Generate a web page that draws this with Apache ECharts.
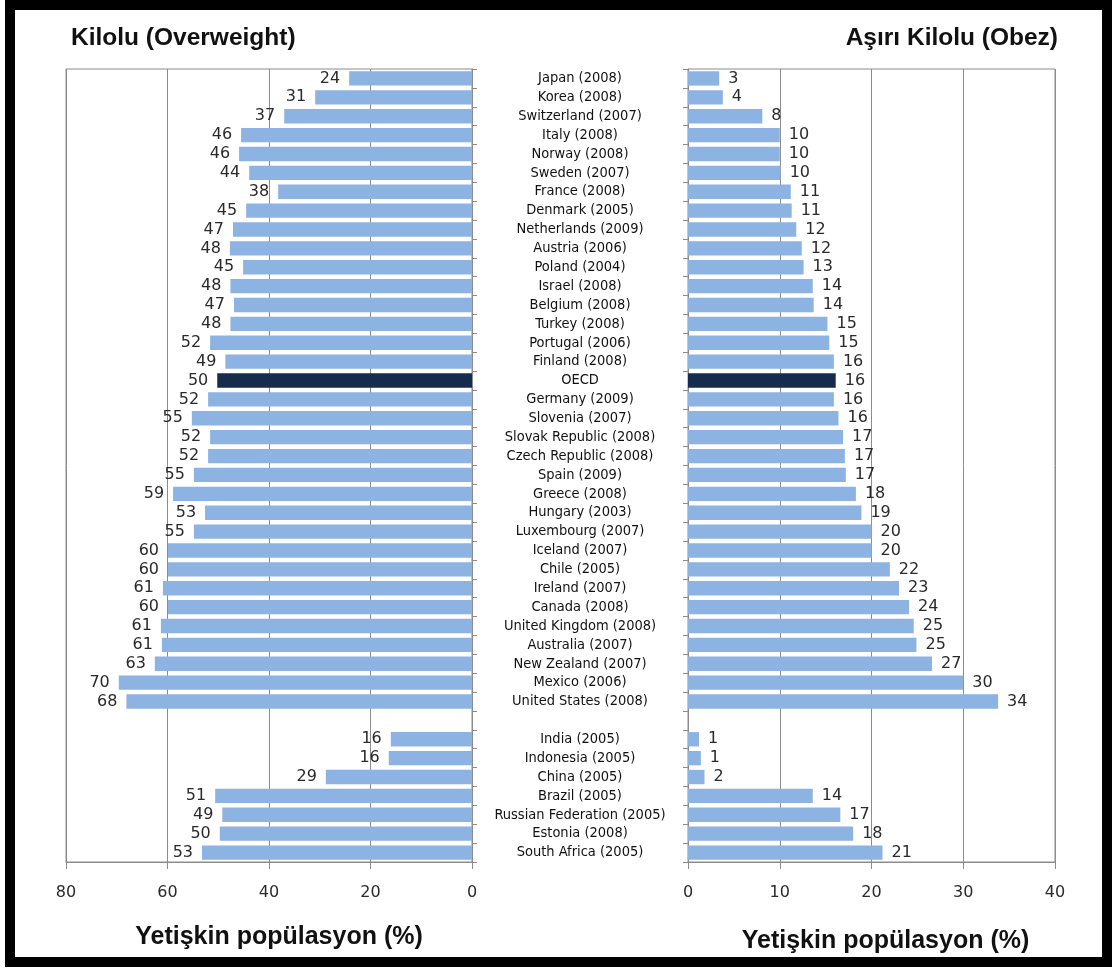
<!DOCTYPE html>
<html>
<head>
<meta charset="utf-8">
<script src="https://cdn.jsdelivr.net/npm/echarts@6/dist/echarts.min.js"></script>
<style>
  html, body { margin: 0; padding: 0; background: #fff; }
  #main { width: 1112px; height: 968px; }
</style>
</head>
<body>
<div id="main"></div>
<script>
// categories, top to bottom ('' is the empty gap row)
var countries = [
  "Japan (2008)", "Korea (2008)", "Switzerland (2007)", "Italy (2008)", "Norway (2008)",
  "Sweden (2007)", "France (2008)", "Denmark (2005)", "Netherlands (2009)", "Austria (2006)",
  "Poland (2004)", "Israel (2008)", "Belgium (2008)", "Turkey (2008)", "Portugal (2006)",
  "Finland (2008)", "OECD", "Germany (2009)", "Slovenia (2007)", "Slovak Republic (2008)",
  "Czech Republic (2008)", "Spain (2009)", "Greece (2008)", "Hungary (2003)", "Luxembourg (2007)",
  "Iceland (2007)", "Chile (2005)", "Ireland (2007)", "Canada (2008)", "United Kingdom (2008)",
  "Australia (2007)", "New Zealand (2007)", "Mexico (2006)", "United States (2008)", "",
  "India (2005)", "Indonesia (2005)", "China (2005)", "Brazil (2005)", "Russian Federation (2005)",
  "Estonia (2008)", "South Africa (2005)"
];

// Kilolu (Overweight), % of adults
var overweight = [
  24.2, 30.9, 37.0, 45.5, 45.9, 43.9, 38.2, 44.5, 47.1, 47.7,
  45.1, 47.6, 46.9, 47.6, 51.6, 48.6, 50.2, 52.0, 55.2, 51.6,
  52.0, 54.8, 58.9, 52.6, 54.8, 59.9, 59.9, 60.9, 59.9, 61.3,
  61.1, 62.5, 69.6, 68.1, null,
  16.0, 16.4, 28.8, 50.6, 49.2, 49.7, 53.2
];

// Aşırı Kilolu (Obez), % of adults
var obese = [
  3.4, 3.8, 8.1, 10.0, 10.0, 10.1, 11.2, 11.3, 11.8, 12.4,
  12.6, 13.6, 13.7, 15.2, 15.4, 15.9, 16.1, 15.9, 16.4, 16.9,
  17.1, 17.2, 18.3, 18.9, 20.0, 20.0, 22.0, 23.0, 24.1, 24.6,
  24.9, 26.6, 30.0, 33.8, null,
  1.2, 1.4, 1.8, 13.6, 16.6, 18.0, 21.2
];

var leftTicks = [0, 20, 40, 60, 80];
var rightTicks = [0, 10, 20, 30, 40];

var lightBlue = "#8db3e2";
var darkBlue = "#172c4c";
var gridGray = "#8c8c8c";

function barData(values) {
  return values.map(function (v, i) {
    if (v == null) return "-";
    if (countries[i] === "OECD") {
      return { value: v, itemStyle: { color: darkBlue } };
    }
    return v;
  });
}

var labelStyle = {
  show: true,
  fontFamily: "DejaVu Sans",
  fontSize: 16,
  color: "#2a2a2a",
  distance: 9,
  formatter: function (p) { return Math.round(p.value); }
};

var tickLabel = { fontFamily: "DejaVu Sans", fontSize: 16, color: "#2a2a2a", margin: 23 };
var axisName = { fontFamily: "Liberation Sans", fontWeight: "bold", fontSize: 25, color: "#111" };
var titleStyle = { fontFamily: "Liberation Sans", fontWeight: "bold", fontSize: 24.5, color: "#111" };

var chart = echarts.init(document.getElementById("main"));
chart.setOption({
  animation: false,
  backgroundColor: "#fff",
  title: [
    { text: "Kilolu (Overweight)", left: 66, top: 21, textStyle: titleStyle },
    { text: "Aşırı Kilolu (Obez)", right: 49, top: 21, textStyle: titleStyle }
  ],
  graphic: [
    { type: "rect", shape: { x: 10, y: 5, width: 1097, height: 957 },
      style: { fill: "none", stroke: "#000", lineWidth: 10 }, z: 100 }
  ],
  grid: [
    { left: 66, right: 640, top: 69, bottom: 106, show: true, borderColor: gridGray, borderWidth: 1 },
    { left: 688, right: 57, top: 69, bottom: 106, show: true, borderColor: gridGray, borderWidth: 1 }
  ],
  xAxis: [
    {
      gridIndex: 0, type: "value", inverse: true, min: leftTicks[0], max: leftTicks[leftTicks.length - 1],
      interval: leftTicks[1] - leftTicks[0],
      axisLine: { show: true, lineStyle: { color: gridGray } },
      axisTick: { show: true, length: 7, lineStyle: { color: gridGray } },
      axisLabel: tickLabel,
      splitLine: { show: true, lineStyle: { color: gridGray } },
      name: "Yetişkin popülasyon (%)", nameLocation: "middle", nameGap: 63,
      nameTextStyle: Object.assign({ padding: [0, 0, 0, 20] }, axisName)
    },
    {
      gridIndex: 1, type: "value", min: rightTicks[0], max: rightTicks[rightTicks.length - 1],
      interval: rightTicks[1] - rightTicks[0],
      axisLine: { show: true, lineStyle: { color: gridGray } },
      axisTick: { show: true, length: 7, lineStyle: { color: gridGray } },
      axisLabel: tickLabel,
      splitLine: { show: true, lineStyle: { color: gridGray } },
      name: "Yetişkin popülasyon (%)", nameLocation: "middle", nameGap: 67,
      nameTextStyle: Object.assign({ padding: [0, 0, 0, 28] }, axisName)
    }
  ],
  yAxis: [
    {
      gridIndex: 0, type: "category", data: countries, inverse: true, position: "right",
      axisLine: { show: true, lineStyle: { color: gridGray } },
      axisTick: { show: true, length: 5, interval: 0, lineStyle: { color: gridGray } },
      axisLabel: { show: false }
    },
    {
      gridIndex: 1, type: "category", data: countries, inverse: true, position: "left",
      axisLine: { show: true, lineStyle: { color: gridGray } },
      axisTick: { show: true, length: 5, interval: 0, lineStyle: { color: gridGray } },
      axisLabel: {
        interval: 0, align: "center", margin: 108,
        fontFamily: "DejaVu Sans Condensed", fontSize: 14.5, color: "#111"
      }
    }
  ],
  series: [
    {
      type: "bar", xAxisIndex: 0, yAxisIndex: 0, data: barData(overweight),
      barCategoryGap: "24%", itemStyle: { color: lightBlue },
      label: Object.assign({ position: "left" }, labelStyle)
    },
    {
      type: "bar", xAxisIndex: 1, yAxisIndex: 1, data: barData(obese),
      barCategoryGap: "24%", itemStyle: { color: lightBlue },
      label: Object.assign({ position: "right" }, labelStyle)
    }
  ]
});
</script>
</body>
</html>
